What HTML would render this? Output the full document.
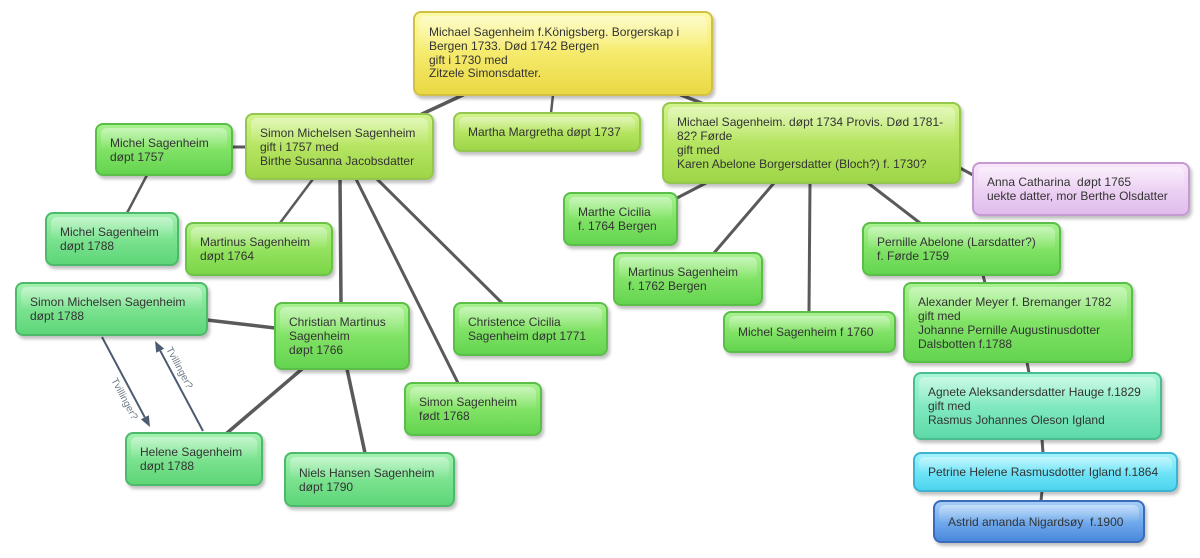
<!DOCTYPE html>
<html>
<head>
<meta charset="utf-8">
<style>
  html, body { margin:0; padding:0; background:#ffffff; }
  #wrap { position:relative; width:1200px; height:558px; overflow:hidden; background:#fff;
          font-family:"Liberation Sans", Arial, sans-serif; }
  svg.lines { position:absolute; left:0; top:0; z-index:1; }
  .n { position:absolute; box-sizing:border-box; z-index:2;
       border:2px solid #5cc04a; border-radius:8px;
       display:flex; align-items:center;
       padding-left:13px; font-size:12px; line-height:14px; color:#333;
       white-space:nowrap;
       box-shadow:2px 3px 3px rgba(0,0,0,0.25); }
  .n::before { content:""; position:absolute; left:4px; right:4px; top:3px; height:45%;
       border-radius:6px 6px 6px 6px;
       background:linear-gradient(to bottom, rgba(255,255,255,0.40), rgba(255,255,255,0.0)); }
  .n span { position:relative; }
  .y { background:linear-gradient(to bottom,#fdfaa8 0%,#f6ec70 45%,#ead844 100%); border-color:#d2c044; }
  .l { background:linear-gradient(to bottom,#d2f48e 0%,#b8e664 45%,#9ed648 100%); border-color:#94c650; }
  .g { background:linear-gradient(to bottom,#a8f290 0%,#84e468 45%,#64d450 100%); border-color:#5abe48; }
  .gl{ background:linear-gradient(to bottom,#b6f290 0%,#96e462 45%,#7cd648 100%); border-color:#6cc246; }
  .m { background:linear-gradient(to bottom,#a2f2b0 0%,#7ee492 45%,#5ed678 100%); border-color:#4cba6a; }
  .t { background:linear-gradient(to bottom,#a8f6d6 0%,#84eac2 45%,#5edaa8 100%); border-color:#4abe90; }
  .c { background:linear-gradient(to bottom,#a4f2fc 0%,#76e6f8 45%,#4cd4ee 100%); border-color:#3cb4d0; }
  .b { background:linear-gradient(to bottom,#a6cef8 0%,#76aeee 45%,#4a88dc 100%); border-color:#3a6cbc; }
  .p { background:linear-gradient(to bottom,#f8e6fb 0%,#eed4f4 45%,#e0bcec 100%); border-color:#c49ad0; }
</style>
</head>
<body>
<div id="wrap">
<svg class="lines" width="1200" height="558" viewBox="0 0 1200 558">
  <g stroke="#5a5a5a" stroke-linecap="round" fill="none">
    <line x1="463" y1="95" x2="422" y2="114" stroke-width="3.5"/>
    <line x1="553" y1="95" x2="551" y2="113" stroke-width="2.5"/>
    <line x1="681" y1="95" x2="704" y2="104" stroke-width="3.5"/>
    <line x1="232" y1="147" x2="246" y2="147" stroke-width="3"/>
    <line x1="147" y1="175" x2="127" y2="213" stroke-width="2.5"/>
    <line x1="313" y1="179" x2="280" y2="223" stroke-width="2.5"/>
    <line x1="340" y1="179" x2="341" y2="303" stroke-width="3.5"/>
    <line x1="356" y1="179" x2="458" y2="383" stroke-width="3"/>
    <line x1="377" y1="179" x2="502" y2="303" stroke-width="3"/>
    <line x1="207" y1="320" x2="275" y2="328" stroke-width="3.5"/>
    <line x1="302" y1="369" x2="227" y2="433" stroke-width="3.5"/>
    <line x1="347" y1="369" x2="365" y2="453" stroke-width="3.5"/>
    <line x1="960" y1="168" x2="973" y2="175" stroke-width="3"/>
    <line x1="706" y1="183" x2="677" y2="198" stroke-width="3"/>
    <line x1="774" y1="183" x2="714" y2="253" stroke-width="3"/>
    <line x1="810" y1="183" x2="809" y2="312" stroke-width="3"/>
    <line x1="868" y1="183" x2="920" y2="223" stroke-width="3"/>
    <line x1="983" y1="275" x2="985" y2="283" stroke-width="3"/>
    <line x1="1027" y1="362" x2="1029" y2="373" stroke-width="3"/>
    <line x1="1042" y1="439" x2="1043" y2="453" stroke-width="3"/>
    <line x1="1042" y1="491" x2="1041" y2="501" stroke-width="3"/>
  </g>
  <g stroke="#4c5c70" stroke-width="2" fill="none">
    <line x1="102" y1="337" x2="144.8" y2="417.3"/>
    <line x1="203" y1="431" x2="160.2" y2="350.7"/>
  </g>
  <g fill="#4c5c70">
    <polygon points="150,427 140.9,419.4 148.8,415.2"/>
    <polygon points="155,341 164.2,348.6 156.2,352.8"/>
  </g>
  <g font-family="Liberation Sans, Arial, sans-serif" font-size="10" fill="#6c7a88" text-anchor="middle">
    <text transform="translate(124,399) rotate(62)" dominant-baseline="middle">Tvillinger?</text>
    <text transform="translate(179,368) rotate(62)" dominant-baseline="middle">Tvillinger?</text>
  </g>
</svg>

<div class="n y" style="left:413px;top:11px;width:300px;height:85px;padding-left:14px;line-height:13.7px;"><span>Michael Sagenheim f.Königsberg. Borgerskap i<br>Bergen 1733. Død 1742 Bergen<br>gift i 1730 med<br>Zitzele Simonsdatter.</span></div>

<div class="n l" style="left:453px;top:112px;width:188px;height:40px;"><span>Martha Margretha døpt 1737</span></div>

<div class="n l" style="left:245px;top:113px;width:189px;height:67px;"><span>Simon Michelsen Sagenheim<br>gift i 1757 med<br>Birthe Susanna Jacobsdatter</span></div>

<div class="n g" style="left:95px;top:123px;width:138px;height:53px;"><span>Michel Sagenheim<br>døpt 1757</span></div>

<div class="n m" style="left:45px;top:212px;width:134px;height:54px;"><span>Michel Sagenheim<br>døpt 1788</span></div>

<div class="n gl" style="left:185px;top:222px;width:148px;height:54px;"><span>Martinus Sagenheim<br>døpt 1764</span></div>

<div class="n m" style="left:15px;top:282px;width:193px;height:54px;"><span>Simon Michelsen Sagenheim<br>døpt 1788</span></div>

<div class="n g" style="left:274px;top:302px;width:136px;height:68px;"><span>Christian Martinus<br>Sagenheim<br>døpt 1766</span></div>

<div class="n m" style="left:125px;top:432px;width:138px;height:54px;"><span>Helene Sagenheim<br>døpt 1788</span></div>

<div class="n m" style="left:284px;top:452px;width:171px;height:55px;"><span>Niels Hansen Sagenheim<br>døpt 1790</span></div>

<div class="n g" style="left:404px;top:382px;width:138px;height:54px;"><span>Simon Sagenheim<br>født 1768</span></div>

<div class="n g" style="left:453px;top:302px;width:155px;height:54px;"><span>Christence Cicilia<br>Sagenheim døpt 1771</span></div>

<div class="n l" style="left:662px;top:102px;width:299px;height:82px;"><span>Michael Sagenheim. døpt 1734 Provis. Død 1781-<br>82? Førde<br>gift med<br>Karen Abelone Borgersdatter (Bloch?) f. 1730?</span></div>

<div class="n p" style="left:972px;top:162px;width:218px;height:54px;"><span>Anna Catharina&nbsp; døpt 1765<br>uekte datter, mor Berthe Olsdatter</span></div>

<div class="n g" style="left:862px;top:222px;width:199px;height:54px;"><span>Pernille Abelone (Larsdatter?)<br>f. Førde 1759</span></div>

<div class="n g" style="left:563px;top:192px;width:115px;height:54px;"><span>Marthe Cicilia<br>f. 1764 Bergen</span></div>

<div class="n g" style="left:613px;top:252px;width:150px;height:54px;"><span>Martinus Sagenheim<br>f. 1762 Bergen</span></div>

<div class="n g" style="left:723px;top:311px;width:173px;height:42px;"><span>Michel Sagenheim f 1760</span></div>

<div class="n g" style="left:903px;top:282px;width:230px;height:81px;"><span>Alexander Meyer f. Bremanger 1782<br>gift med<br>Johanne Pernille Augustinusdotter<br>Dalsbotten f.1788</span></div>

<div class="n t" style="left:913px;top:372px;width:249px;height:68px;"><span>Agnete Aleksandersdatter Hauge f.1829<br>gift med<br>Rasmus Johannes Oleson Igland</span></div>

<div class="n c" style="left:913px;top:452px;width:265px;height:40px;"><span>Petrine Helene Rasmusdotter Igland f.1864</span></div>

<div class="n b" style="left:933px;top:500px;width:212px;height:43px;"><span>Astrid amanda Nigardsøy&nbsp; f.1900</span></div>

</div>
</body>
</html>
